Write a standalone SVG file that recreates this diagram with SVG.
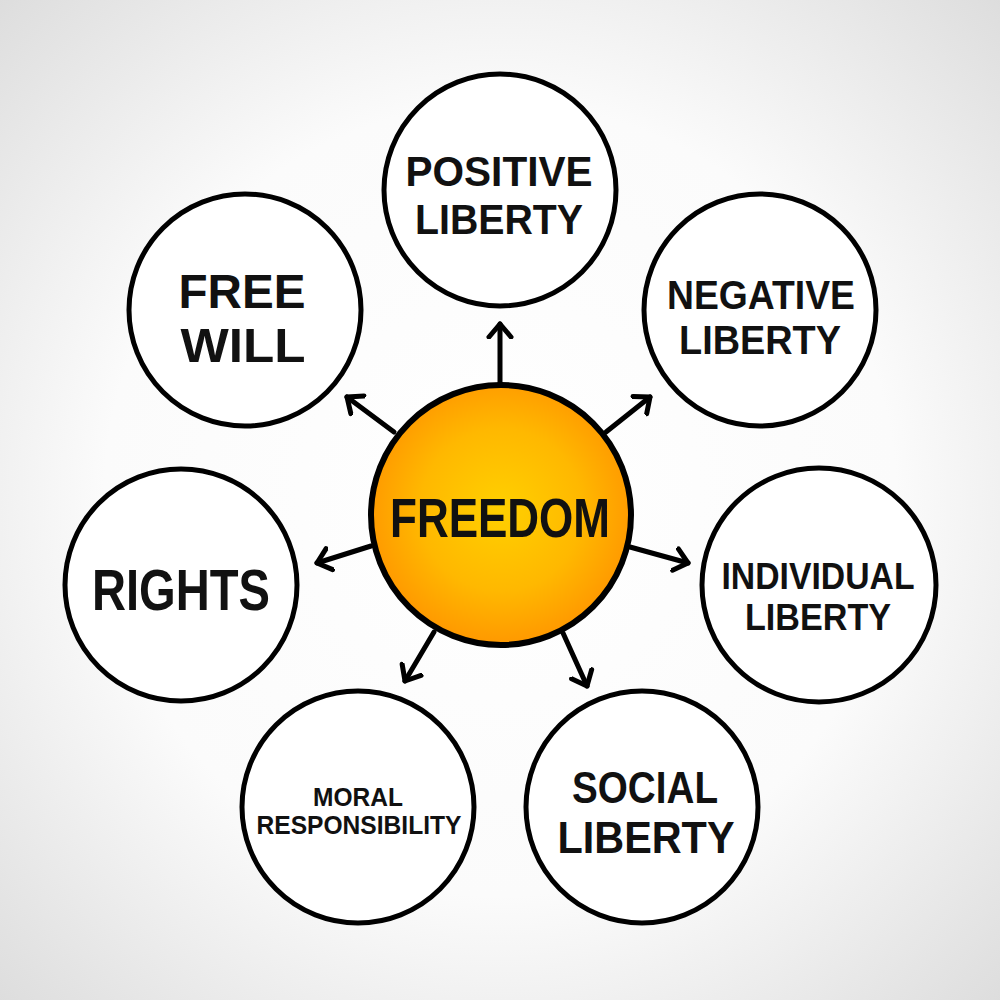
<svg xmlns="http://www.w3.org/2000/svg" width="1000" height="1000" viewBox="0 0 1000 1000">
<defs>
<radialGradient id="bg" cx="50%" cy="50%" r="72%">
<stop offset="0" stop-color="#ffffff"/>
<stop offset="0.55" stop-color="#fbfbfb"/>
<stop offset="1" stop-color="#dcdcdc"/>
</radialGradient>
<radialGradient id="core" cx="50%" cy="48%" r="52%">
<stop offset="0" stop-color="#ffd000"/>
<stop offset="0.6" stop-color="#ffb800"/>
<stop offset="1" stop-color="#ff9800"/>
</radialGradient>
<marker id="head" viewBox="-2 -14 18 28" markerWidth="18" markerHeight="28" refX="13" refY="0" orient="auto" markerUnits="userSpaceOnUse">
<path d="M0,-11 L13,0 L0,11" fill="none" stroke="#000" stroke-width="5" stroke-linecap="round" stroke-linejoin="round"/>
</marker>
<style>
.node{fill:#fff;stroke:#000;stroke-width:5}
.center{fill:url(#core);stroke:#000;stroke-width:6}
.t{font-family:"Liberation Sans","DejaVu Sans",sans-serif;font-weight:bold;fill:#111;text-anchor:middle}
.edge{stroke:#000;stroke-width:5;stroke-linecap:round;fill:none;marker-end:url(#head)}
</style>
</defs>
<rect width="1000" height="1000" fill="url(#bg)"/>
<g id="connectors">
<line class="edge" x1="500" y1="384" x2="500" y2="324"/>
<line class="edge" x1="394" y1="432" x2="347" y2="397"/>
<line class="edge" x1="606" y1="432" x2="650" y2="397"/>
<line class="edge" x1="371" y1="546" x2="317" y2="563"/>
<line class="edge" x1="630" y1="547" x2="688" y2="563"/>
<line class="edge" x1="434" y1="632" x2="405" y2="681"/>
<line class="edge" x1="563" y1="633" x2="587" y2="686"/>
</g>
<g id="freedom">
<circle class="center" cx="501" cy="515" r="130"/>
<text class="t" x="500" y="537" font-size="56" textLength="220" lengthAdjust="spacingAndGlyphs">FREEDOM</text>
</g>
<g id="positive-liberty">
<circle class="node" cx="500" cy="190" r="116"/>
<text class="t" x="499" y="186" font-size="43" textLength="187" lengthAdjust="spacingAndGlyphs">POSITIVE</text>
<text class="t" x="499" y="234" font-size="43" textLength="168" lengthAdjust="spacingAndGlyphs">LIBERTY</text>
</g>
<g id="free-will">
<circle class="node" cx="245" cy="310" r="116"/>
<text class="t" x="242" y="308" font-size="48" textLength="127" lengthAdjust="spacingAndGlyphs">FREE</text>
<text class="t" x="243" y="362" font-size="48" textLength="125" lengthAdjust="spacingAndGlyphs">WILL</text>
</g>
<g id="negative-liberty">
<circle class="node" cx="760" cy="310" r="116"/>
<text class="t" x="761" y="309" font-size="40" textLength="188" lengthAdjust="spacingAndGlyphs">NEGATIVE</text>
<text class="t" x="760" y="354" font-size="40" textLength="162" lengthAdjust="spacingAndGlyphs">LIBERTY</text>
</g>
<g id="rights">
<circle class="node" cx="181" cy="585" r="116"/>
<text class="t" x="181" y="610" font-size="58" textLength="178" lengthAdjust="spacingAndGlyphs">RIGHTS</text>
</g>
<g id="individual-liberty">
<circle class="node" cx="819" cy="585" r="117"/>
<text class="t" x="818" y="589" font-size="36" textLength="193" lengthAdjust="spacingAndGlyphs">INDIVIDUAL</text>
<text class="t" x="818" y="630" font-size="36" textLength="146" lengthAdjust="spacingAndGlyphs">LIBERTY</text>
</g>
<g id="moral-responsibility">
<circle class="node" cx="358" cy="807" r="116"/>
<text class="t" x="358" y="806" font-size="25" textLength="90" lengthAdjust="spacingAndGlyphs">MORAL</text>
<text class="t" x="359" y="834" font-size="25" textLength="205" lengthAdjust="spacingAndGlyphs">RESPONSIBILITY</text>
</g>
<g id="social-liberty">
<circle class="node" cx="642" cy="807" r="116"/>
<text class="t" x="645" y="803" font-size="44" textLength="146" lengthAdjust="spacingAndGlyphs">SOCIAL</text>
<text class="t" x="646" y="853" font-size="44" textLength="177" lengthAdjust="spacingAndGlyphs">LIBERTY</text>
</g>
</svg>
